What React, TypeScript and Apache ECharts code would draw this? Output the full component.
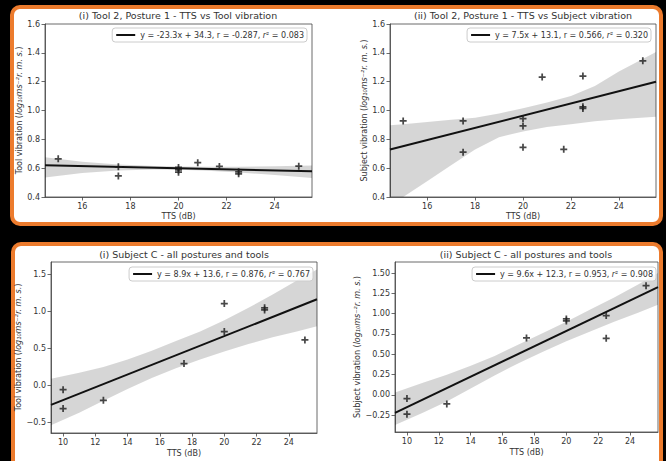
import React, { useEffect, useRef } from "react";
import * as echarts from "echarts";

const FONT = "'DejaVu Sans', sans-serif";
const TEXT = "#333";
const AXIS = "#444";
const ORANGE = "#EC7B2D";

// ---------- tick values / labels ----------
const topXTicks = [16, 18, 20, 22, 24];
const topXLabels = ["16", "18", "20", "22", "24"];
const topYTicks = [0.4, 0.6, 0.8, 1.0, 1.2, 1.4, 1.6];
const topYLabels = ["0.4", "0.6", "0.8", "1.0", "1.2", "1.4", "1.6"];
const botXTicks = [10, 12, 14, 16, 18, 20, 22, 24];
const botXLabels = ["10", "12", "14", "16", "18", "20", "22", "24"];
const blYTicks = [-0.5, 0, 0.5, 1.0, 1.5];
const blYLabels = ["\u22120.5", "0.0", "0.5", "1.0", "1.5"];
const brYTicks = [-0.25, 0, 0.25, 0.5, 0.75, 1.0, 1.25, 1.5];
const brYLabels = ["\u22120.25", "0.00", "0.25", "0.50", "0.75", "1.00", "1.25", "1.50"];

// ---------- (i) Tool 2, Posture 1 - TTS vs Tool vibration ----------
const tlTTS = [15, 17.5, 17.5, 20, 20, 20, 20.8, 21.7, 22.5, 22.5, 25];
const tlVib = [0.665, 0.609, 0.546, 0.605, 0.588, 0.572, 0.638, 0.612, 0.575, 0.561, 0.614];
const tlFitX = [14.45, 25.55];
const tlFitY = [0.62, 0.578];
const tlBandX = [14.45, 16, 17.5, 19, 20, 21, 22.5, 24, 25.55];
const tlBandUpper = [0.675, 0.645, 0.625, 0.615, 0.612, 0.61, 0.609, 0.613, 0.618];
const tlBandLower = [0.535, 0.567, 0.583, 0.59, 0.589, 0.584, 0.57, 0.552, 0.532];
const tlLegend = "y = -23.3x + 34.3, r = -0.287, r\u00b2 = 0.083";

// ---------- (ii) Tool 2, Posture 1 - TTS vs Subject vibration ----------
const trTTS = [15, 17.5, 17.5, 20, 20, 20, 20.8, 21.7, 22.5, 22.5, 22.5, 25];
const trVib = [0.928, 0.928, 0.711, 0.944, 0.893, 0.745, 1.232, 0.731, 1.239, 1.026, 1.014, 1.345];
const trFitX = [14.45, 25.55];
const trFitY = [0.729, 1.199];
const trBandX = [14.45, 15, 16, 17, 18, 19, 20, 21, 22, 23, 24, 25.55];
const trBandUpper = [0.898, 0.905, 0.92, 0.935, 0.95, 0.98, 1.015, 1.055, 1.1, 1.17, 1.27, 1.405];
const trBandLower = [0.375, 0.4, 0.51, 0.62, 0.73, 0.815, 0.855, 0.885, 0.905, 0.925, 0.94, 0.956];
const trLegend = "y = 7.5x + 13.1, r = 0.566, r\u00b2 = 0.320";

// ---------- (i) Subject C - all postures and tools ----------
const blTTS = [10, 10, 12.5, 17.5, 20, 20, 22.5, 22.5, 25];
const blVib = [-0.058, -0.315, -0.202, 0.295, 1.107, 0.728, 1.049, 1.021, 0.615];
const blFitX = [9.25, 25.75];
const blFitY = [-0.265, 1.165];
const blBandX = [9.25, 11, 12.5, 14, 15.5, 17, 18.5, 20, 21.5, 23, 24.5, 25.75];
const blBandUpper = [0.09, 0.17, 0.25, 0.35, 0.47, 0.6, 0.73, 0.88, 1.05, 1.23, 1.42, 1.57];
const blBandLower = [-0.54, -0.37, -0.21, -0.05, 0.1, 0.23, 0.35, 0.46, 0.56, 0.65, 0.73, 0.8];
const blLegend = "y = 8.9x + 13.6, r = 0.876, r\u00b2 = 0.767";

// ---------- (ii) Subject C - all postures and tools ----------
const brTTS = [10, 10, 12.5, 17.5, 20, 20, 22.5, 22.5, 25];
const brVib = [-0.044, -0.237, -0.11, 0.701, 0.936, 0.911, 0.977, 0.697, 1.344];
const brFitX = [9.25, 25.75];
const brFitY = [-0.221, 1.327];
const brBandX = [9.25, 11, 12.5, 14, 15.5, 17, 18.5, 20, 21.5, 23, 24.5, 25.75];
const brBandUpper = [0.03, 0.15, 0.25, 0.36, 0.48, 0.62, 0.76, 0.9, 1.05, 1.2, 1.36, 1.5];
const brBandLower = [-0.37, -0.22, -0.08, 0.08, 0.24, 0.39, 0.53, 0.66, 0.78, 0.9, 1.01, 1.11];
const brLegend = "y = 9.6x + 12.3, r = 0.953, r\u00b2 = 0.908";

const titles = [
  "(i) Tool 2, Posture 1 - TTS vs Tool vibration",
  "(ii) Tool 2, Posture 1 - TTS vs Subject vibration",
  "(i) Subject C - all postures and tools",
  "(ii) Subject C - all postures and tools",
];
const yNames = [
  "Tool vibration ({it|log\u2081\u2080ms\u207b\u00b2r. m. s.})",
  "Subject vibration ({it|log\u2081\u2080ms\u207b\u00b2r. m. s.})",
  "Tool vibration ({it|log\u2081\u2080ms\u207b\u00b2r. m. s.})",
  "Subject vibration ({it|log\u2081\u2080ms\u207b\u00b2r. m. s.})",
];
const xName = "TTS (dB)";

const PLUS = "path://M-0.25,-1H0.25V-0.25H1V0.25H0.25V1H-0.25V0.25H-1V-0.25H-0.25Z";

type Panel = {
  grid: { left: number; top: number; width: number; height: number };
  xMin: number; xMax: number; yMin: number; yMax: number;
  xTicks: number[]; xLabels: string[]; yTicks: number[]; yLabels: string[];
  tts: number[]; vib: number[]; fitX: number[]; fitY: number[];
  bandX: number[]; bandU: number[]; bandL: number[];
  legend: string; legendRight: number; legendTop: number;
  yGap: number; xGap: number; title: string; titleX: number; titleY: number; yName: string;
};

const panels: Panel[] = [
  {
    grid: { left: 45, top: 24, width: 267, height: 173 },
    xMin: 14.45, xMax: 25.55, yMin: 0.4, yMax: 1.6,
    xTicks: topXTicks, xLabels: topXLabels, yTicks: topYTicks, yLabels: topYLabels,
    tts: tlTTS, vib: tlVib, fitX: tlFitX, fitY: tlFitY,
    bandX: tlBandX, bandU: tlBandUpper, bandL: tlBandLower,
    legend: tlLegend, legendRight: 359, legendTop: 28,
    yGap: 21, xGap: 15, title: titles[0], titleX: 178, titleY: 15, yName: yNames[0],
  },
  {
    grid: { left: 390, top: 24, width: 266, height: 173 },
    xMin: 14.45, xMax: 25.55, yMin: 0.4, yMax: 1.6,
    xTicks: topXTicks, xLabels: topXLabels, yTicks: topYTicks, yLabels: topYLabels,
    tts: trTTS, vib: trVib, fitX: trFitX, fitY: trFitY,
    bandX: trBandX, bandU: trBandUpper, bandL: trBandLower,
    legend: trLegend, legendRight: 15, legendTop: 28,
    yGap: 22, xGap: 15, title: titles[1], titleX: 523, titleY: 15, yName: yNames[1],
  },
  {
    grid: { left: 51, top: 262, width: 266, height: 171 },
    xMin: 9.25, xMax: 25.75, yMin: -0.645, yMax: 1.67,
    xTicks: botXTicks, xLabels: botXLabels, yTicks: blYTicks, yLabels: blYLabels,
    tts: blTTS, vib: blVib, fitX: blFitX, fitY: blFitY,
    bandX: blBandX, bandU: blBandUpper, bandL: blBandLower,
    legend: blLegend, legendRight: 353, legendTop: 267,
    yGap: 28, xGap: 16, title: titles[2], titleX: 184, titleY: 254, yName: yNames[2],
  },
  {
    grid: { left: 395, top: 262, width: 263, height: 170 },
    xMin: 9.25, xMax: 25.75, yMin: -0.456, yMax: 1.636,
    xTicks: botXTicks, xLabels: botXLabels, yTicks: brYTicks, yLabels: brYLabels,
    tts: brTTS, vib: brVib, fitX: brFitX, fitY: brFitY,
    bandX: brBandX, bandU: brBandUpper, bandL: brBandLower,
    legend: brLegend, legendRight: 10, legendTop: 267,
    yGap: 34, xGap: 16, title: titles[3], titleX: 526, titleY: 254, yName: yNames[3],
  },
];

function labelFor(ticks: number[], labels: string[]) {
  return (v: number) => {
    for (let i = 0; i < ticks.length; i++) if (Math.abs(ticks[i] - v) < 1e-6) return labels[i];
    return "";
  };
}

function buildOption() {
  const grid: any[] = [];
  const xAxis: any[] = [];
  const yAxis: any[] = [];
  const series: any[] = [];
  const legend: any[] = [];
  const graphic: any[] = [];

  panels.forEach((p, i) => {
    grid.push({
      ...p.grid,
      show: true,
      borderColor: AXIS,
      borderWidth: 0.8,
      backgroundColor: "transparent",
      containLabel: false,
    });
    xAxis.push({
      gridIndex: i,
      type: "value",
      min: p.xMin,
      max: p.xMax,
      axisLine: { show: true, onZero: false, lineStyle: { color: AXIS, width: 0.8 } },
      axisTick: { show: true, length: 3.5, lineStyle: { color: AXIS, width: 0.8 }, customValues: p.xTicks },
      axisLabel: {
        customValues: p.xTicks,
        formatter: labelFor(p.xTicks, p.xLabels),
        fontSize: 8,
        fontFamily: FONT,
        color: TEXT,
        margin: 5,
      },
      splitLine: { show: false },
      name: xName,
      nameLocation: "middle",
      nameGap: p.xGap,
      nameTextStyle: { fontSize: 8, fontFamily: FONT, color: TEXT },
    });
    yAxis.push({
      gridIndex: i,
      type: "value",
      min: p.yMin,
      max: p.yMax,
      axisLine: { show: true, onZero: false, lineStyle: { color: AXIS, width: 0.8 } },
      axisTick: { show: true, length: 3.5, lineStyle: { color: AXIS, width: 0.8 }, customValues: p.yTicks },
      axisLabel: {
        customValues: p.yTicks,
        formatter: labelFor(p.yTicks, p.yLabels),
        fontSize: 8,
        fontFamily: FONT,
        color: TEXT,
        margin: 5,
      },
      splitLine: { show: false },
      name: p.yName,
      nameLocation: "middle",
      nameRotate: 90,
      nameGap: p.yGap,
      nameTextStyle: {
        fontSize: 8,
        fontFamily: FONT,
        color: TEXT,
        rich: { it: { fontSize: 8, fontFamily: FONT, fontStyle: "italic", color: TEXT } },
      },
    });

    const bx = p.bandX, bu = p.bandU, bl = p.bandL;
    series.push({
      type: "custom",
      xAxisIndex: i,
      yAxisIndex: i,
      silent: true,
      z: 1,
      data: [[bx[0], bu[0]]],
      renderItem: (params: any, api: any) => {
        const pts: number[][] = [];
        for (let k = 0; k < bx.length; k++) pts.push(api.coord([bx[k], bu[k]]));
        for (let k = bx.length - 1; k >= 0; k--) pts.push(api.coord([bx[k], bl[k]]));
        const cs = params.coordSys;
        const clipped = (echarts.graphic as any).clipPointsByRect(pts, {
          x: cs.x, y: cs.y, width: cs.width, height: cs.height,
        });
        return {
          type: "polygon",
          shape: { points: clipped },
          style: { fill: "rgba(0,0,0,0.16)", stroke: "none" },
        };
      },
    });
    series.push({
      type: "line",
      name: p.legend,
      xAxisIndex: i,
      yAxisIndex: i,
      data: p.fitX.map((x, k) => [x, p.fitY[k]]),
      symbol: "none",
      showSymbol: false,
      lineStyle: { color: "#111", width: 2 },
      itemStyle: { color: "#111" },
      z: 3,
    });
    series.push({
      type: "scatter",
      xAxisIndex: i,
      yAxisIndex: i,
      data: p.tts.map((x, k) => [x, p.vib[k]]),
      symbol: PLUS,
      symbolSize: 7,
      itemStyle: { color: "#1a1a1a" },
      z: 4,
    });
    legend.push({
      data: [p.legend],
      right: p.legendRight,
      top: p.legendTop,
      orient: "horizontal",
      padding: [3, 3, 3, 4],
      itemWidth: 19,
      itemHeight: 2,
      icon: "rect",
      backgroundColor: "rgba(255,255,255,0.8)",
      borderColor: "#ccc",
      borderWidth: 1,
      borderRadius: 3,
      selectedMode: false,
      formatter: (name: string) => name.replace("r\u00b2", "{it|r}\u00b2"),
      textStyle: {
        fontSize: 8,
        fontFamily: FONT,
        color: TEXT,
        rich: { it: { fontSize: 8, fontFamily: FONT, fontStyle: "italic", color: TEXT } },
      },
    });
    graphic.push({
      type: "text",
      x: p.titleX,
      y: p.titleY,
      style: {
        text: p.title,
        font: `9.5px ${FONT}`,
        fill: TEXT,
        textAlign: "center",
        textVerticalAlign: "middle",
      },
    });
  });

  return {
    animation: false,
    backgroundColor: "transparent",
    grid,
    xAxis,
    yAxis,
    series,
    legend,
    graphic,
  };
}

export default function App() {
  const ref = useRef<HTMLDivElement>(null);
  useEffect(() => {
    if (!ref.current) return;
    const chart = echarts.init(ref.current, undefined, { renderer: "svg" });
    chart.setOption(buildOption() as any);
    return () => chart.dispose();
  }, []);

  const panelStyle = (left: number, top: number, width: number, height: number): React.CSSProperties => ({
    position: "absolute",
    left,
    top,
    width,
    height,
    boxSizing: "border-box",
    border: `4px solid ${ORANGE}`,
    borderRadius: 10,
    background: "#fff",
  });

  return (
    <div style={{ position: "absolute", left: 0, top: 0, width: 666, height: 461, background: "#000", overflow: "hidden" }}>
      <div style={panelStyle(10, 5, 653, 221)} />
      <div style={panelStyle(11, 242, 652, 240)} />
      <div ref={ref} style={{ position: "absolute", left: 0, top: 0, width: 666, height: 461 }} />
    </div>
  );
}
